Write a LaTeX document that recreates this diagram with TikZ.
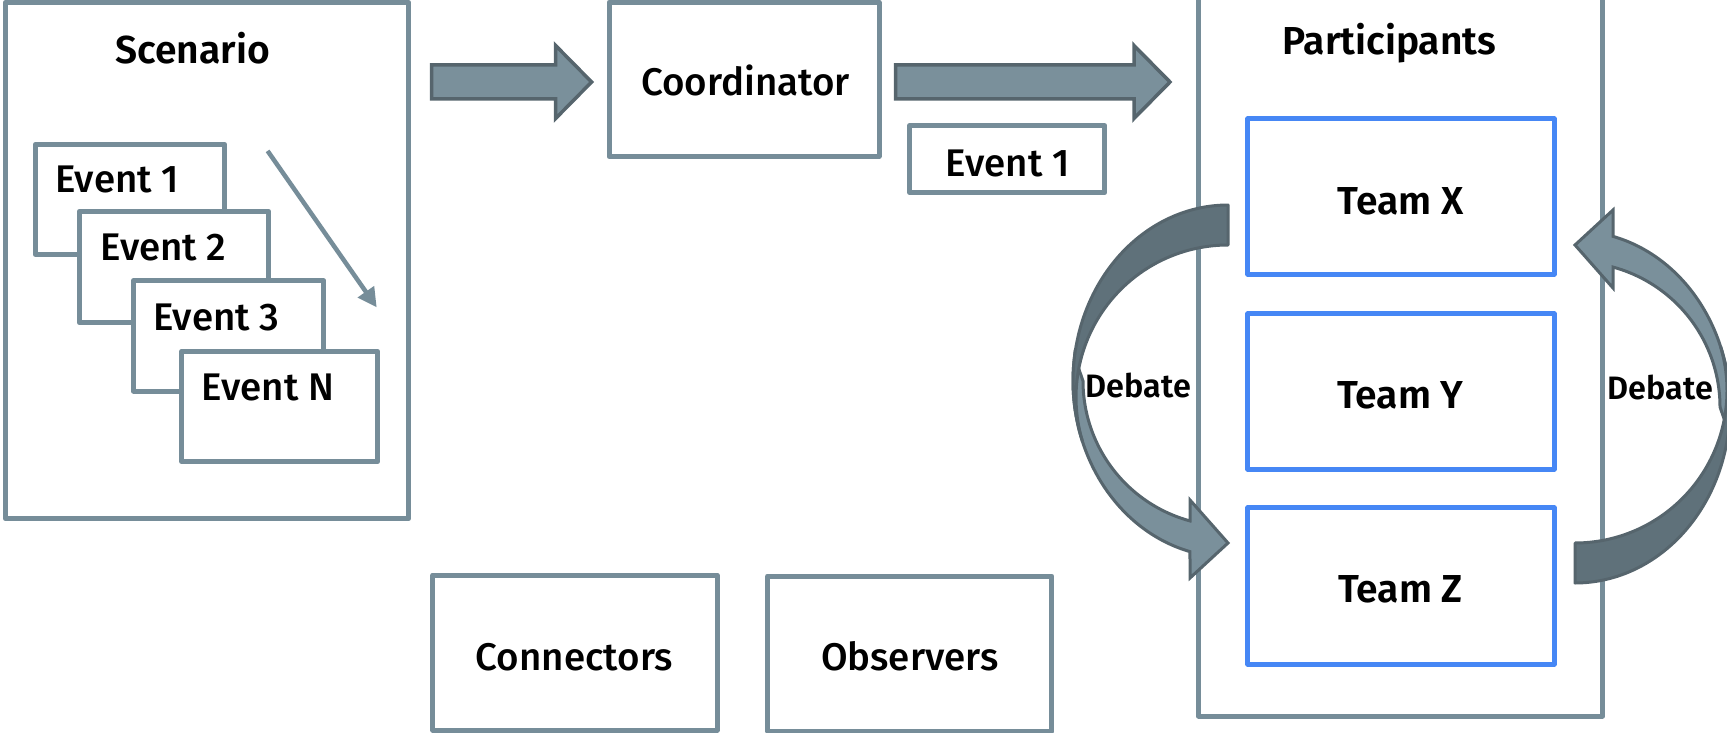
\documentclass[tikz,border=0pt]{standalone}
\usepackage{fontspec}
\setmainfont{Fira Sans}[UprightFont={* Medium}, BoldFont={* SemiBold}]
\usetikzlibrary{arrows.meta,calc}

\definecolor{frame}{HTML}{768D99}
\definecolor{arrowfill}{HTML}{7A909B}
\definecolor{arrowdark}{HTML}{5F717A}
\definecolor{arrowline}{HTML}{56656D}
\definecolor{teamblue}{HTML}{4687F5}

% curved "debate" arrow, drawn around a local origin (y grows downwards)
\newcommand\debatearrowshape{%
  % lower, lighter part of the band with the head
  \filldraw[curvelight]
    plot[domain=188:104.2, samples=60] ({155*cos(\x)},{176*sin(\x)})
    -- (-38,197) -- (0,162) -- (-38,119)
    -- plot[domain=105.2:180, samples=60] ({145*cos(\x)},{145*sin(\x)})
    -- cycle;
  % upper, darker part of the band
  \filldraw[curvedark]
    plot[domain=270:160.1, samples=70] ({155*cos(\x)},{176*sin(\x)})
    -- plot[domain=163.4:270, samples=70] ({152*cos(\x)},{16.5+152.5*sin(\x)})
    -- cycle;
}

\begin{document}
\begin{tikzpicture}[x=1pt,y=-1pt,
  panel/.style={draw=frame, line width=5pt, fill=white, line join=round,
    rectangle, inner sep=0pt, outer sep=0pt},
  teambox/.style={draw=teamblue, line width=5pt, fill=white, line join=round,
    rectangle, inner sep=0pt, outer sep=0pt},
  lbl/.style={font=\fontsize{38.5}{40}\selectfont, inner sep=0pt},
  heading/.style={font=\bfseries\fontsize{39}{40}\selectfont, inner sep=0pt},
  debatelbl/.style={font=\bfseries\fontsize{32.4}{34}\selectfont, inner sep=0pt, anchor=base},
  blockarrow/.style={fill=arrowfill, draw=arrowline, line width=3.5pt, line join=miter},
  curvelight/.style={fill=arrowfill, draw=arrowline, line width=3pt, line join=miter},
  curvedark/.style={fill=arrowdark, draw=arrowline, line width=3pt, line join=round},
  flow/.style={draw=frame, line width=4.5pt, -{Triangle[length=19pt,width=19pt]}}
]
\useasboundingbox (0,0) rectangle (1727,733);

% scenario with its stacked events
\node[panel, minimum width=403.1pt, minimum height=516.6pt] (scn) at (207.05,260.5) {};
\node[heading, anchor=base] (scnt) at (192.7,63.9) {Scenario};
\node[panel, minimum width=189.5pt, minimum height=110.1pt] (ev1) at (129.95,199.35) {};
\node[lbl, anchor=base west] (ev1t) at (55,192.7) {Event 1};
\node[panel, minimum width=189.4pt, minimum height=111.2pt] (ev2) at (174,267.1) {};
\node[lbl, anchor=base west] (ev2t) at (100.2,260) {Event 2};
\node[panel, minimum width=190.5pt, minimum height=110.1pt] (ev3) at (228.55,335.95) {};
\node[lbl, anchor=base west] (ev3t) at (153,330.4) {Event 3};
\node[panel, minimum width=196.1pt, minimum height=110.2pt] (evn) at (279.75,406.4) {};
\node[lbl, anchor=base west] (evnt) at (201.6,400.9) {Event N};

\coordinate (fs) at (267.6,150.9);
\coordinate (fe) at (376.7,307.3);
\draw[flow] (fs) -- (fe);

% coordinator
\node[panel, minimum width=270pt, minimum height=154.2pt] (crd) at (744,79.3) {};
\node[lbl, anchor=base] (crdt) at (745.6,95.8) {Coordinator};

\node[panel, minimum width=194.9pt, minimum height=67.1pt] (msg) at (1007.25,159.15) {};
\node[lbl, anchor=base] (msgt) at (1007.8,176.2) {Event 1};

% block arrows between the stages
\coordinate (b1s) at (431.7,82);
\coordinate (b1e) at (591.6,82);
\draw[blockarrow] let \p1=(b1s), \p2=(b1e) in
  (\x1,\y1+17pt) -- (\x2-36pt,\y1+17pt) -- (\x2-36pt,\y1+36.5pt) -- (\x2,\y1)
  -- (\x2-36pt,\y1-36.5pt) -- (\x2-36pt,\y1-17pt) -- (\x1,\y1-17pt) -- cycle;
\coordinate (b2s) at (895.5,82);
\coordinate (b2e) at (1170,82);
\draw[blockarrow] let \p1=(b2s), \p2=(b2e) in
  (\x1,\y1+17pt) -- (\x2-36pt,\y1+17pt) -- (\x2-36pt,\y1+36.5pt) -- (\x2,\y1)
  -- (\x2-36pt,\y1-36.5pt) -- (\x2-36pt,\y1-17pt) -- (\x1,\y1-17pt) -- cycle;

% participants
\node[panel, minimum width=404.2pt, minimum height=726pt] (par) at (1400.4,353) {};
\node[heading, anchor=base] (part) at (1389.4,55) {Participants};
\node[teambox, minimum width=306.2pt, minimum height=155.3pt] (tx) at (1401,196.65) {};
\node[heading, anchor=base] (txt) at (1400.4,214.8) {Team X};
\node[teambox, minimum width=306.2pt, minimum height=155.3pt] (ty) at (1401,391.55) {};
\node[heading, anchor=base] (tyt) at (1400.4,408.6) {Team Y};
\node[teambox, minimum width=306.2pt, minimum height=156.4pt] (tz) at (1401,585.9) {};
\node[heading, anchor=base] (tzt) at (1400.4,602.5) {Team Z};

% debate arrows
\coordinate (dl) at (1228,381);
\coordinate (dr) at (1575,407);
\begin{scope}[shift={(dl)}]
  \debatearrowshape
\end{scope}
\begin{scope}[shift={(dr)}, rotate=180]
  \debatearrowshape
\end{scope}
\node[debatelbl] (dlt) at (1138.3,397.6) {Debate};
\node[debatelbl] (drt) at (1660.3,399.8) {Debate};

% connectors and observers
\node[panel, minimum width=284.2pt, minimum height=155pt] (con) at (574.9,652.5) {};
\node[lbl, anchor=base] (cont) at (574.4,670.8) {Connectors};
\node[panel, minimum width=284.1pt, minimum height=155pt] (obs) at (909.75,653.5) {};
\node[lbl, anchor=base] (obst) at (909.8,670.8) {Observers};
\end{tikzpicture}
\end{document}
